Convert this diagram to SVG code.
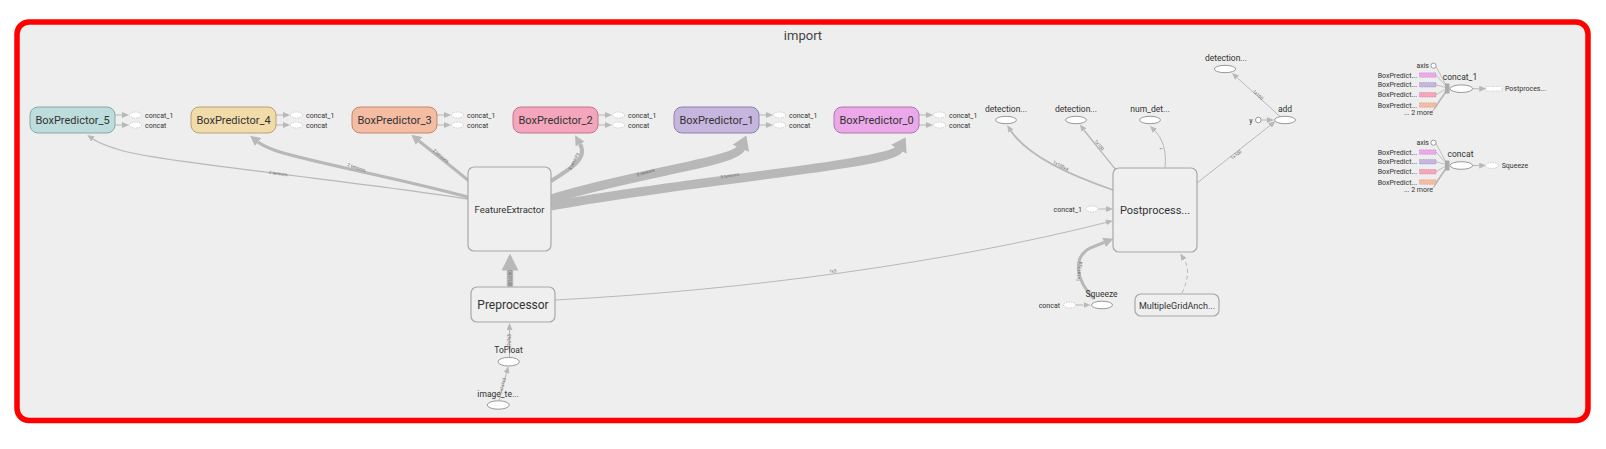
<svg xmlns="http://www.w3.org/2000/svg" width="1606" height="449" viewBox="0 0 1606 449">
<style>
.t{font-family:Roboto,"Liberation Sans",sans-serif;fill:#333}
.e{stroke:#b8b8b8;fill:none}
.op{fill:#fff;stroke:#999;stroke-width:1}
.dop{fill:#fff;stroke:#c4c4c4;stroke-width:0.8;stroke-dasharray:1.5 1}
.meta{fill:#efefef;stroke:#a8a8a8;stroke-width:1.2}
.el{font-family:Roboto,"Liberation Sans",sans-serif;font-size:4.5px;fill:#666}
.s7{font-size:7px}
.s8{font-size:8.5px}
.fan{stroke:#aaa;stroke-width:0.7;fill:none}
</style>
<defs>
<marker id="m1" viewBox="0 0 7 6" refX="0" refY="3" markerWidth="7" markerHeight="6" markerUnits="userSpaceOnUse" orient="auto"><path d="M0,0 L7,3 L0,6 z" fill="#b8b8b8"/></marker>
<marker id="m3" viewBox="0 0 10 10" refX="0" refY="5" markerWidth="10" markerHeight="10" markerUnits="userSpaceOnUse" orient="auto"><path d="M0,0 L10,5 L0,10 z" fill="#b8b8b8"/></marker>
<marker id="m9" viewBox="0 0 14 18" refX="0.5" refY="9" markerWidth="14" markerHeight="18" markerUnits="userSpaceOnUse" orient="auto"><path d="M0,0 L14,9 L0,18 z" fill="#b8b8b8"/></marker>
<marker id="ms" viewBox="0 0 17 17" refX="0.5" refY="8.5" markerWidth="17" markerHeight="17" markerUnits="userSpaceOnUse" orient="auto"><path d="M0,0 L17,8.5 L0,17 z" fill="#b8b8b8"/></marker>
</defs>
<rect width="1606" height="449" fill="#fff"/>
<rect x="17" y="22" width="1571" height="398.5" rx="12" fill="#eeeeee" stroke="#ff0000" stroke-width="5.5"/>
<text class="t" x="803" y="40" text-anchor="middle" font-size="13" style="fill:#444">import</text>

<g id="connectors">
  <!-- BoxPredictor outputs -->
  <path class="e" d="M115,115 h7" marker-end="url(#m1)"/>
  <path class="e" d="M115,125 h7" marker-end="url(#m1)"/>
  <path class="e" d="M276,115 h7" marker-end="url(#m1)"/>
  <path class="e" d="M276,125 h7" marker-end="url(#m1)"/>
  <path class="e" d="M437,115 h7" marker-end="url(#m1)"/>
  <path class="e" d="M437,125 h7" marker-end="url(#m1)"/>
  <path class="e" d="M598,115 h7" marker-end="url(#m1)"/>
  <path class="e" d="M598,125 h7" marker-end="url(#m1)"/>
  <path class="e" d="M759,115 h7" marker-end="url(#m1)"/>
  <path class="e" d="M759,125 h7" marker-end="url(#m1)"/>
  <path class="e" d="M919,115 h7" marker-end="url(#m1)"/>
  <path class="e" d="M919,125 h7" marker-end="url(#m1)"/>

  <!-- FeatureExtractor to BoxPredictors -->
  <path class="e" stroke-width="1.3" d="M468,199 C330,178 160,162 120,150 Q100,144 93,139" marker-end="url(#m1)"/>
  <text class="el" transform="translate(278,175) rotate(8)" text-anchor="middle">2 tensors</text>
  <path class="e" stroke-width="3" d="M468,197 C390,176 300,160 274,150 Q263,146 258,142" marker-end="url(#m3)"/>
  <text class="el" transform="translate(356,169) rotate(18)" text-anchor="middle">2 tensors</text>
  <path class="e" stroke-width="3" d="M469,181 C450,165 430,150 419,141" marker-end="url(#m3)"/>
  <text class="el" transform="translate(440,157) rotate(40)" text-anchor="middle">2 tensors</text>
  <path class="e" stroke-width="4" d="M551,181 C572,168 588,158 580,144" marker-end="url(#m3)"/>
  <text class="el" transform="translate(575,162) rotate(-65)" text-anchor="middle">3 tensors</text>
  <path class="e" stroke-width="9" d="M551,199 C640,172 735,162 741,148" marker-end="url(#m9)"/>
  <text class="el" transform="translate(646,174) rotate(-15)" text-anchor="middle">3 tensors</text>
  <path class="e" stroke-width="9" d="M551,206 C690,180 890,165 899,149" marker-end="url(#m9)"/>
  <text class="el" transform="translate(730,177) rotate(-9)" text-anchor="middle">3 tensors</text>

  <!-- Preprocessor chain -->
  <path class="e" stroke-width="6.5" d="M510,286.5 L510,270" marker-end="url(#ms)"/>
  <text class="el" transform="translate(511.5,279) rotate(-90)" text-anchor="middle" style="fill:#777">300x300</text>
  <path class="e" d="M509.5,357 L509.5,330" marker-end="url(#m1)"/>
  <text class="el" transform="translate(511,342) rotate(-90)" text-anchor="middle">?x?x?x3</text>
  <path class="e" d="M499,400.5 L506.5,373" marker-end="url(#m1)"/>
  <text class="el" transform="translate(504,386) rotate(-75)" text-anchor="middle">1x?x?x3</text>
  <path class="e" d="M555,300 C750,290 950,262 1106,222.5" marker-end="url(#m1)"/>
  <text class="el" transform="translate(833,272.5) rotate(-7)" text-anchor="middle">?x3</text>

  <!-- Postprocessor edges -->
  <path class="e" stroke-width="1.8" d="M1113,190 C1060,172 1025,152 1011,131" marker-end="url(#m1)"/>
  <text class="el" transform="translate(1060,167) rotate(28)" text-anchor="middle">1x100x4</text>
  <path class="e" stroke-width="1.4" d="M1116,170 C1100,150 1090,138 1084,130" marker-end="url(#m1)"/>
  <text class="el" transform="translate(1098,146) rotate(52)" text-anchor="middle">1x100</text>
  <path class="e" d="M1165,168 C1167,150 1162,138 1155,131" marker-end="url(#m1)"/>
  <text class="el" transform="translate(1163,149) rotate(-80)" text-anchor="middle">1</text>
  <path class="e" d="M1197,183 L1270,125.5" marker-end="url(#m1)"/>
  <text class="el" transform="translate(1237,156) rotate(-38)" text-anchor="middle">1x100</text>
  <path class="e" d="M1280,116.5 L1237.2,77.7" marker-end="url(#m1)"/>
  <text class="el" transform="translate(1257,96) rotate(42)" text-anchor="middle">1x100</text>
  <path class="e" d="M1261,120 h6" marker-end="url(#m1)"/>
  <path class="e" d="M1098.5,209 h7.5" marker-end="url(#m1)"/>
  <path class="e" d="M1076,305 h7.5" marker-end="url(#m1)"/>
  <path class="e" stroke-width="3" d="M1094,299 C1076,280 1072,258 1090,248 L1104,242.5" marker-end="url(#m3)"/>
  <text class="el" transform="translate(1081,272) rotate(-80)" text-anchor="middle">1x1917x4</text>
  <path class="e" stroke-dasharray="4 3" d="M1182,293 Q1192,272 1184,259.5" marker-end="url(#m1)"/>

  <!-- legend fans -->
  <path class="fan" d="M1436,66.5 L1446,85 M1436,75 L1446,86 M1436,84.7 L1446,87.5 M1436,94.7 L1446,89 M1436,105 L1446,90.5 M1434,110 L1446,91.5 M1432,112 L1446,92.5"/>
  <path class="e" d="M1472.7,88.7 h6.5" marker-end="url(#m1)"/>
  <path class="fan" d="M1436,143.5 L1446,162 M1436,152 L1446,163 M1436,161.7 L1446,164.5 M1436,171.7 L1446,166 M1436,182 L1446,167.5 M1434,187 L1446,168.5 M1432,189 L1446,169.5"/>
  <path class="e" d="M1472.7,165.5 h6.5" marker-end="url(#m1)"/>
</g>

<g id="BoxPredictor_5">
  <rect x="30" y="107" width="85" height="26" rx="8" fill="#bddcdc" stroke="#88a8a8"/>
  <text class="t" x="72.5" y="124" text-anchor="middle" font-size="11">BoxPredictor_5</text>
  <ellipse class="dop" cx="135.5" cy="115" rx="6" ry="3"/><ellipse class="dop" cx="135.5" cy="125" rx="6" ry="3"/>
  <text class="t s7" x="145" y="117.5">concat_1</text><text class="t s7" x="145" y="127.5">concat</text>
</g>
<g id="BoxPredictor_4">
  <rect x="191" y="107" width="85" height="26" rx="8" fill="#f0dba9" stroke="#b9a274"/>
  <text class="t" x="233.5" y="124" text-anchor="middle" font-size="11">BoxPredictor_4</text>
  <ellipse class="dop" cx="296.5" cy="115" rx="6" ry="3"/><ellipse class="dop" cx="296.5" cy="125" rx="6" ry="3"/>
  <text class="t s7" x="306" y="117.5">concat_1</text><text class="t s7" x="306" y="127.5">concat</text>
</g>
<g id="BoxPredictor_3">
  <rect x="352" y="107" width="85" height="26" rx="8" fill="#f4bca2" stroke="#c08870"/>
  <text class="t" x="394.5" y="124" text-anchor="middle" font-size="11">BoxPredictor_3</text>
  <ellipse class="dop" cx="457.5" cy="115" rx="6" ry="3"/><ellipse class="dop" cx="457.5" cy="125" rx="6" ry="3"/>
  <text class="t s7" x="467" y="117.5">concat_1</text><text class="t s7" x="467" y="127.5">concat</text>
</g>
<g id="BoxPredictor_2">
  <rect x="513" y="107" width="85" height="26" rx="8" fill="#f4a6bd" stroke="#c27590"/>
  <text class="t" x="555.5" y="124" text-anchor="middle" font-size="11">BoxPredictor_2</text>
  <ellipse class="dop" cx="618.5" cy="115" rx="6" ry="3"/><ellipse class="dop" cx="618.5" cy="125" rx="6" ry="3"/>
  <text class="t s7" x="628" y="117.5">concat_1</text><text class="t s7" x="628" y="127.5">concat</text>
</g>
<g id="BoxPredictor_1">
  <rect x="674" y="107" width="85" height="26" rx="8" fill="#c5b6de" stroke="#8f7fb0"/>
  <text class="t" x="716.5" y="124" text-anchor="middle" font-size="11">BoxPredictor_1</text>
  <ellipse class="dop" cx="779.5" cy="115" rx="6" ry="3"/><ellipse class="dop" cx="779.5" cy="125" rx="6" ry="3"/>
  <text class="t s7" x="789" y="117.5">concat_1</text><text class="t s7" x="789" y="127.5">concat</text>
</g>
<g id="BoxPredictor_0">
  <rect x="834" y="107" width="85" height="26" rx="8" fill="#eba9ea" stroke="#b274b2"/>
  <text class="t" x="876.5" y="124" text-anchor="middle" font-size="11">BoxPredictor_0</text>
  <ellipse class="dop" cx="939.5" cy="115" rx="6" ry="3"/><ellipse class="dop" cx="939.5" cy="125" rx="6" ry="3"/>
  <text class="t s7" x="949" y="117.5">concat_1</text><text class="t s7" x="949" y="127.5">concat</text>
</g>

<g id="FeatureExtractor">
  <rect class="meta" x="468" y="167" width="83" height="84" rx="6"/>
  <text class="t" x="509.5" y="212.5" text-anchor="middle" font-size="9.5">FeatureExtractor</text>
</g>
<g id="Preprocessor">
  <rect class="meta" x="471" y="287" width="84" height="35" rx="6"/>
  <text class="t" x="513" y="308.5" text-anchor="middle" font-size="12">Preprocessor</text>
</g>
<g id="ToFloat">
  <ellipse class="op" cx="508.7" cy="361.7" rx="10.7" ry="4.3"/>
  <text class="t s8" x="508.5" y="353" text-anchor="middle">ToFloat</text>
</g>
<g id="image_tensor">
  <ellipse class="op" cx="498.3" cy="405" rx="11" ry="4.2"/>
  <text class="t s8" x="498" y="396.5" text-anchor="middle">image_te...</text>
</g>

<g id="Postprocessor">
  <rect class="meta" x="1113" y="168" width="84" height="84" rx="6"/>
  <text class="t" x="1155" y="214" text-anchor="middle" font-size="11">Postprocess...</text>
  <ellipse class="dop" cx="1092" cy="209" rx="6" ry="3"/>
  <text class="t s7" x="1082" y="211.5" text-anchor="end">concat_1</text>
</g>
<g id="detection_boxes">
  <ellipse class="op" cx="1006" cy="120" rx="10.5" ry="3.7"/>
  <text class="t s8" x="1006" y="112" text-anchor="middle">detection...</text>
</g>
<g id="detection_scores">
  <ellipse class="op" cx="1076" cy="120" rx="10.5" ry="3.7"/>
  <text class="t s8" x="1076" y="112" text-anchor="middle">detection...</text>
</g>
<g id="num_detections">
  <ellipse class="op" cx="1150" cy="120" rx="10.5" ry="3.7"/>
  <text class="t s8" x="1150" y="112" text-anchor="middle">num_det...</text>
</g>
<g id="detection_classes">
  <ellipse class="op" cx="1225" cy="69" rx="10.7" ry="3.7"/>
  <text class="t s8" x="1226" y="60.5" text-anchor="middle">detection...</text>
</g>
<g id="add">
  <ellipse class="op" cx="1285" cy="120" rx="10.5" ry="3.7"/>
  <text class="t s8" x="1285" y="111.5" text-anchor="middle">add</text>
  <circle class="op" cx="1258.3" cy="120" r="2.8"/>
  <text class="t s7" x="1252.5" y="122.5" text-anchor="end">y</text>
</g>
<g id="Squeeze">
  <ellipse class="op" cx="1102" cy="305" rx="10.5" ry="3.8"/>
  <text class="t s8" x="1101.5" y="297" text-anchor="middle">Squeeze</text>
  <ellipse class="dop" cx="1069.7" cy="305" rx="6" ry="3"/>
  <text class="t s7" x="1060" y="307.5" text-anchor="end">concat</text>
</g>
<g id="MultipleGridAnchorGenerator">
  <rect class="meta" x="1135" y="294" width="84" height="22" rx="6"/>
  <text class="t" x="1177" y="308.5" text-anchor="middle" font-size="9">MultipleGridAnch...</text>
</g>

<g id="concat_1">
  <circle class="op" cx="1433.5" cy="65.7" r="2.6"/>
  <text class="t s7" x="1429" y="68" text-anchor="end">axis</text>
  <text class="t s7" x="1417" y="77.5" text-anchor="end">BoxPredict...</text>
  <text class="t s7" x="1417" y="87.2" text-anchor="end">BoxPredict...</text>
  <text class="t s7" x="1417" y="97.2" text-anchor="end">BoxPredict...</text>
  <text class="t s7" x="1417" y="107.5" text-anchor="end">BoxPredict...</text>
  <text class="t s7" x="1433" y="114.5" text-anchor="end">... 2 more</text>
  <rect x="1419.5" y="72.8" width="16.5" height="4.5" fill="#eba9ea" stroke="#c08ac0" stroke-width="0.6" stroke-dasharray="1 0.7"/>
  <rect x="1419.5" y="82.5" width="16.5" height="4.5" fill="#c5b6de" stroke="#9d8fbd" stroke-width="0.6" stroke-dasharray="1 0.7"/>
  <rect x="1419.5" y="92.5" width="16.5" height="4.5" fill="#f4a6bd" stroke="#c88299" stroke-width="0.6" stroke-dasharray="1 0.7"/>
  <rect x="1419.5" y="102.8" width="16.5" height="4.5" fill="#f4bca2" stroke="#c8987f" stroke-width="0.6" stroke-dasharray="1 0.7"/>
  <rect x="1445" y="83.5" width="4.5" height="10" fill="#aaa"/>
  <ellipse class="op" cx="1461.3" cy="88.7" rx="11.3" ry="3.8"/>
  <text class="t s8" x="1460" y="79.5" text-anchor="middle">concat_1</text>
  <rect x="1486" y="86.5" width="16" height="4.5" fill="#fff" stroke="#c4c4c4" stroke-width="0.7" stroke-dasharray="1.5 1"/>
  <text class="t s7" x="1505" y="91">Postproces...</text>
</g>
<g id="concat">
  <circle class="op" cx="1433.5" cy="142.7" r="2.6"/>
  <text class="t s7" x="1429" y="145" text-anchor="end">axis</text>
  <text class="t s7" x="1417" y="154.5" text-anchor="end">BoxPredict...</text>
  <text class="t s7" x="1417" y="164.2" text-anchor="end">BoxPredict...</text>
  <text class="t s7" x="1417" y="174.2" text-anchor="end">BoxPredict...</text>
  <text class="t s7" x="1417" y="184.5" text-anchor="end">BoxPredict...</text>
  <text class="t s7" x="1433" y="191.5" text-anchor="end">... 2 more</text>
  <rect x="1419.5" y="149.8" width="16.5" height="4.5" fill="#eba9ea" stroke="#c08ac0" stroke-width="0.6" stroke-dasharray="1 0.7"/>
  <rect x="1419.5" y="159.5" width="16.5" height="4.5" fill="#c5b6de" stroke="#9d8fbd" stroke-width="0.6" stroke-dasharray="1 0.7"/>
  <rect x="1419.5" y="169.5" width="16.5" height="4.5" fill="#f4a6bd" stroke="#c88299" stroke-width="0.6" stroke-dasharray="1 0.7"/>
  <rect x="1419.5" y="179.8" width="16.5" height="4.5" fill="#f4bca2" stroke="#c8987f" stroke-width="0.6" stroke-dasharray="1 0.7"/>
  <rect x="1445" y="160.5" width="4.5" height="10" fill="#aaa"/>
  <ellipse class="op" cx="1461.3" cy="165.5" rx="11.3" ry="3.8"/>
  <text class="t s8" x="1460.5" y="156.5" text-anchor="middle">concat</text>
  <ellipse class="dop" cx="1492" cy="165.5" rx="6.3" ry="3"/>
  <text class="t s7" x="1501.7" y="168">Squeeze</text>
</g>
</svg>
